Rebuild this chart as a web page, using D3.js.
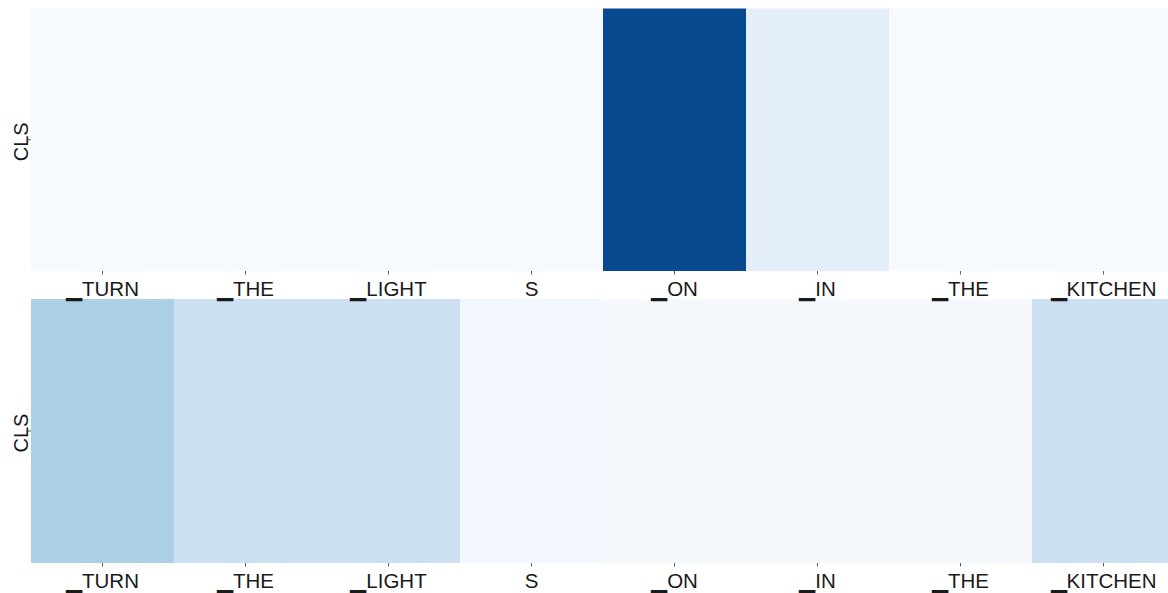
<!DOCTYPE html>
<html>
<head>
<meta charset="utf-8">
<script src="https://cdn.jsdelivr.net/npm/d3@7"></script>
<style>
html,body{margin:0;padding:0;background:#fff;}
svg{display:block;}
text{font-family:"Liberation Sans",Arial,sans-serif;fill:#1a1a1a;}
</style>
</head>
<body>
<svg id="chart" width="1168" height="593"></svg>
<script>
const tokens = ["▁TURN","▁THE","▁LIGHT","S","▁ON","▁IN","▁THE","▁KITCHEN"];
const rowLabels = ["CLS"];
const topValues = [0.004, 0.004, 0.004, 0.004, 0.91, 0.10, 0.004, 0.004];
const bottomValues = [0.335, 0.212, 0.212, 0.025, 0.012, 0.012, 0.012, 0.212];
const blueStops = ["#f7fbff","#deebf7","#c6dbef","#9ecae1","#6baed6","#4292c6","#2171b5","#08519c","#08306b"];

const svg = d3.select("#chart");
const cellLayer = svg.append("g");
const axisLayer = svg.append("g");

const color = d3.scaleLinear()
  .domain(d3.range(blueStops.length).map(i => i / (blueStops.length - 1)))
  .range(blueStops)
  .interpolate(d3.interpolateRgb)
  .clamp(true);

const x = d3.scaleBand()
  .domain(d3.range(tokens.length))
  .range([31, 31 + 143 * tokens.length])
  .padding(0);

function drawPanel(values, y0, y1) {
  const y = d3.scaleBand().domain(rowLabels).range([y0, y1]);
  cellLayer.append("g").selectAll("rect")
    .data(values)
    .join("rect")
    .attr("x", (d, i) => x(i))
    .attr("y", y(rowLabels[0]))
    .attr("width", x.bandwidth() + 0.5)
    .attr("height", y.bandwidth())
    .attr("fill", d => color(d));

  const xAxis = d3.axisBottom(x)
    .tickFormat(i => tokens[i])
    .tickSize(3.5)
    .tickPadding(6.5);
  const ax = axisLayer.append("g")
    .attr("transform", `translate(0,${y1})`)
    .call(xAxis);
  ax.select(".domain").remove();
  ax.selectAll(".tick line").attr("stroke", "#333").attr("stroke-width", 0.8);
  ax.selectAll(".tick text")
    .attr("font-size", 20.5)
    .attr("dy", "0.74em")
    .style("fill", "#1a1a1a");

  const yAxis = d3.axisLeft(y).tickSize(3.5).tickPadding(0);
  const ay = axisLayer.append("g")
    .attr("transform", `translate(31,0)`)
    .call(yAxis);
  ay.select(".domain").remove();
  ay.selectAll(".tick line").attr("stroke", "#333").attr("stroke-width", 0.8);
  ay.selectAll(".tick text")
    .attr("font-size", 20)
    .attr("text-anchor", "middle")
    .attr("x", 0).attr("dy", 0)
    .attr("transform", "translate(-3,2) rotate(-90)")
    .style("fill", "#1a1a1a");
}

drawPanel(topValues, 8.5, 271);
drawPanel(bottomValues, 299, 563);
</script>
</body>
</html>
